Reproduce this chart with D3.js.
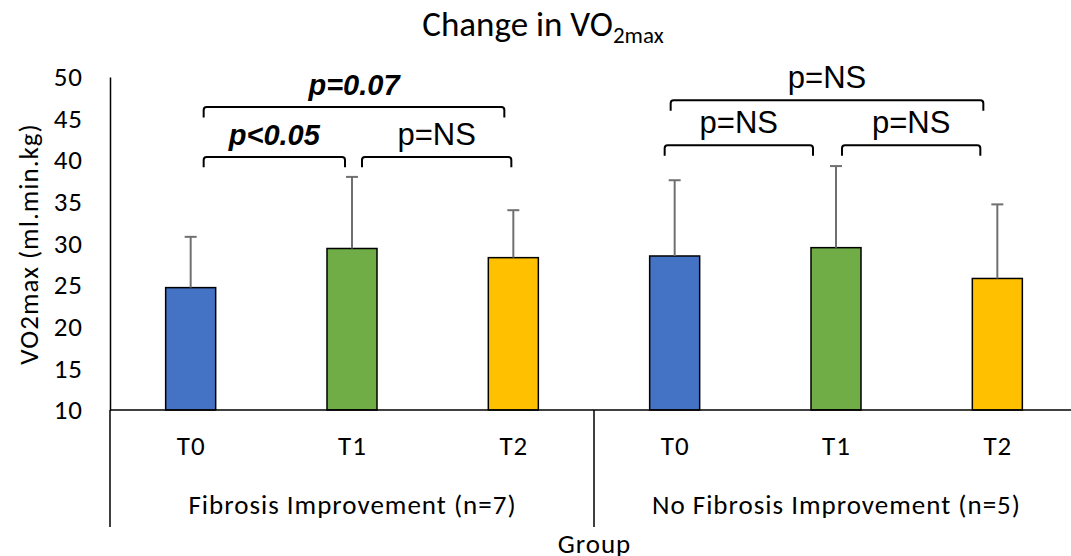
<!DOCTYPE html>
<html>
<head>
<meta charset="utf-8">
<script src="https://cdn.jsdelivr.net/npm/d3@7"></script>
<style>
  body { margin: 0; background: #fff; }
  text { font-family: Carlito, Calibri, Lato, "Open Sans", sans-serif; }
</style>
</head>
<body>
<div id="chart"></div>
<script>
// Data
const groups = ["Fibrosis Improvement (n=7)", "No Fibrosis Improvement (n=5)"];
const times = ["T0", "T1", "T2"];
const means = [24.7, 29.4, 28.3, 28.5, 29.5, 25.8];
const errTops = [30.8, 38.0, 34.0, 37.6, 39.3, 34.7];
const colors = ["#4472C4", "#70AD47", "#FFC000"];
const yTicks = [10, 15, 20, 25, 30, 35, 40, 45, 50];
// significance brackets: bar indices, height in data units, label
const brackets = [
  { from: 0, to: 1, y: 40.4, label: "p<0.05", bold: true },
  { from: 1, to: 2, y: 40.4, label: "p=NS", bold: false },
  { from: 0, to: 2, y: 46.4, label: "p=0.07", bold: true },
  { from: 3, to: 4, y: 41.8, label: "p=NS", bold: false },
  { from: 4, to: 5, y: 41.8, label: "p=NS", bold: false },
  { from: 3, to: 5, y: 47.2, label: "p=NS", bold: false }
];
// small horizontal nudges of bracket ends relative to the bar centres
const bracketNudge = [[13, -7], [10, -2], [13, -9], [-10, -23], [6, -17], [-4, -14]];

const W = 1071, H = 556;
const margin = { top: 77, left: 110, bottom: 146 };
const plotRight = 1078;
const FS = 27;   // label font size
const LS = 1.0;  // letter spacing of the labels

const svg = d3.select("#chart").append("svg")
  .attr("width", W).attr("height", H);

const cats = d3.range(6);
const x = d3.scaleBand().domain(cats).range([margin.left, plotRight]).paddingInner(0.69).paddingOuter(0.345);
const y = d3.scaleLinear().domain([10, 50]).range([H - margin.bottom, margin.top]);
const cx = i => x(i) + x.bandwidth() / 2;
const step = x.step();

// Title
const title = svg.append("text").attr("x", 543).attr("y", 36)
  .attr("text-anchor", "middle").attr("font-size", 35).attr("fill", "#000");
title.append("tspan").text("Change in VO");
title.append("tspan").attr("font-size", 23).attr("dy", 7).text("2max");

// Y axis
const yAxis = d3.axisLeft(y).tickValues(yTicks).tickSize(0).tickPadding(28 - LS);
const ya = svg.append("g").attr("transform", `translate(${margin.left},0)`).call(yAxis);
ya.select(".domain").attr("stroke", "#000").attr("stroke-width", 1.5);
ya.selectAll("text").attr("font-size", FS).attr("letter-spacing", LS).attr("fill", "#000")
  .style("font-family", "Carlito, Calibri, Lato, sans-serif");

svg.append("text")
  .attr("transform", `translate(38,${(y(10) + y(50)) / 2 + LS / 2}) rotate(-90)`)
  .attr("text-anchor", "middle").attr("font-size", FS).attr("letter-spacing", LS)
  .text("VO2max (ml.min.kg)");

// Bars
svg.selectAll("rect.bar").data(means).join("rect")
  .attr("class", "bar")
  .attr("x", (d, i) => x(i)).attr("width", x.bandwidth())
  .attr("y", d => y(d)).attr("height", d => y(10) - y(d))
  .attr("fill", (d, i) => colors[i % 3])
  .attr("stroke", "#000").attr("stroke-width", 1.5);

// Error bars (upper only)
const eb = svg.selectAll("g.err").data(means).join("g").attr("class", "err")
  .attr("stroke", "#707070").attr("stroke-width", 2);
eb.append("line")
  .attr("x1", (d, i) => cx(i)).attr("x2", (d, i) => cx(i))
  .attr("y1", d => y(d)).attr("y2", (d, i) => y(errTops[i]));
eb.append("line")
  .attr("x1", (d, i) => cx(i) - 6).attr("x2", (d, i) => cx(i) + 6)
  .attr("y1", (d, i) => y(errTops[i])).attr("y2", (d, i) => y(errTops[i]));

// Baseline
svg.append("line").attr("x1", margin.left).attr("x2", W)
  .attr("y1", y(10)).attr("y2", y(10)).attr("stroke", "#000").attr("stroke-width", 1.5);

// Multi-level category axis
const lowY = 527;
[0, 3, 6].forEach(k => {
  const xx = margin.left + k * step;
  svg.append("line").attr("x1", xx).attr("x2", xx).attr("y1", y(10)).attr("y2", lowY)
    .attr("stroke", "#000").attr("stroke-width", 1.5);
});

svg.selectAll("text.tlab").data(cats).join("text").attr("class", "tlab")
  .attr("x", i => cx(i) + LS / 2).attr("y", 455).attr("text-anchor", "middle")
  .attr("font-size", FS).attr("letter-spacing", LS).text(i => times[i % 3]);

svg.selectAll("text.glab").data(groups).join("text").attr("class", "glab")
  .attr("x", (d, g) => margin.left + (g * 3 + 1.5) * step + LS / 2).attr("y", 514)
  .attr("text-anchor", "middle").attr("font-size", FS).attr("letter-spacing", LS).text(d => d);

svg.append("text").attr("x", margin.left + 3 * step + LS / 2).attr("y", 553)
  .attr("text-anchor", "middle").attr("font-size", FS).attr("letter-spacing", LS).text("Group");

// Brackets
const legH = 1.25;
brackets.forEach((b, k) => {
  const x1 = cx(b.from) + bracketNudge[k][0], x2 = cx(b.to) + bracketNudge[k][1];
  const yTop = y(b.y), yLeg = y(b.y - legH);
  const r = 3;
  svg.append("path")
    .attr("d", `M${x1},${yLeg} L${x1},${yTop + r} Q${x1},${yTop} ${x1 + r},${yTop} L${x2 - r},${yTop} Q${x2},${yTop} ${x2},${yTop + r} L${x2},${yLeg}`)
    .attr("fill", "none").attr("stroke", "#000").attr("stroke-width", 2);
  svg.append("text").attr("x", (x1 + x2) / 2).attr("y", yTop - 12)
    .attr("text-anchor", "middle").attr("font-size", b.bold ? 29 : 31)
    .style("font-family", "'Liberation Sans', Arial, sans-serif")
    .attr("font-weight", b.bold ? "bold" : "normal")
    .attr("font-style", b.bold ? "italic" : "normal")
    .text(b.label);
});
</script>
</body>
</html>
